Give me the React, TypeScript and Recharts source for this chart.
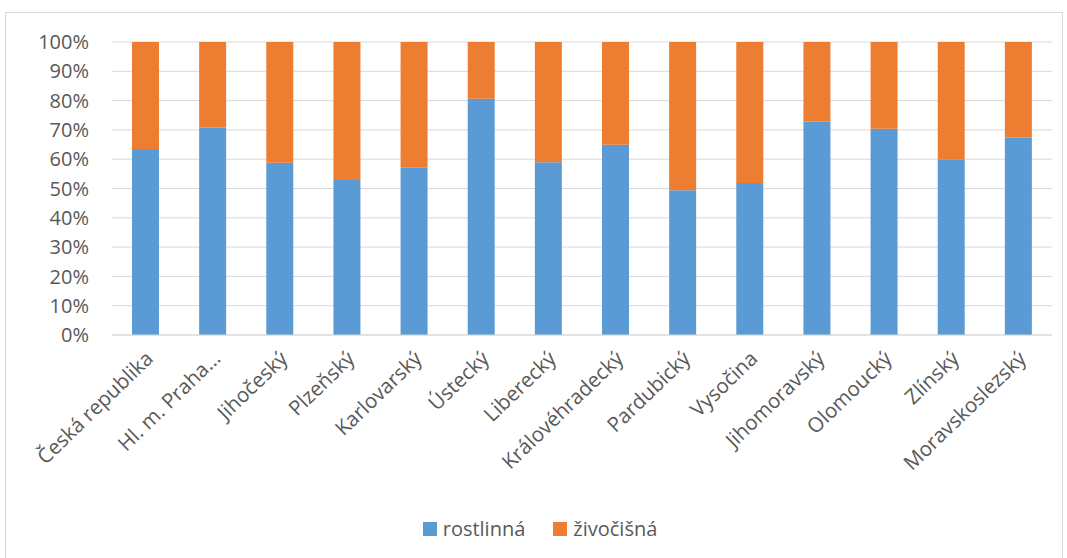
import { Bar, BarChart, CartesianGrid, Legend, XAxis, YAxis } from "recharts";

const kraje = [
  "Česká republika",
  "Hl. m. Praha…",
  "Jihočeský",
  "Plzeňský",
  "Karlovarský",
  "Ústecký",
  "Liberecký",
  "Královéhradecký",
  "Pardubický",
  "Vysočina",
  "Jihomoravský",
  "Olomoucký",
  "Zlínský",
  "Moravskoslezský",
];
const rostlinna = [63.5, 70.8, 58.8, 52.9, 57.1, 80.6, 59.0, 64.9, 49.4, 51.9, 72.9, 70.4, 60.0, 67.4];
const zivocisna = [36.5, 29.2, 41.2, 47.1, 42.9, 19.4, 41.0, 35.1, 50.6, 48.1, 27.1, 29.6, 40.0, 32.6];
const yTicks = [0, 10, 20, 30, 40, 50, 60, 70, 80, 90, 100];

const data = kraje.map((k, i) => ({ kraj: k, rostlinna: rostlinna[i], zivocisna: zivocisna[i] }));

const FONT = "'Open Sans', sans-serif";
const TEXT = "#595959";

function KrajTick({ x, y, payload }: any) {
  const ax = x + 9;
  const ay = y + 17;
  return (
    <text
      x={ax}
      y={ay}
      transform={`rotate(-44, ${ax}, ${ay})`}
      textAnchor="end"
      fontSize={20.5}
      fontFamily={FONT}
      fill={TEXT}
    >
      {payload.value}
    </text>
  );
}

function LegendBox() {
  const items = [
    { label: "rostlinná", color: "#5B9BD5" },
    { label: "živočišná", color: "#ED7D31" },
  ];
  return (
    <div
      style={{
        display: "flex",
        justifyContent: "center",
        gap: 28,
        paddingLeft: 28,
        fontFamily: FONT,
        fontSize: 20,
        color: TEXT,
      }}
    >
      {items.map((it) => (
        <div key={it.label} style={{ display: "flex", alignItems: "center" }}>
          <span style={{ width: 14, height: 14, background: it.color, display: "inline-block", marginRight: 6 }} />
          {it.label}
        </div>
      ))}
    </div>
  );
}

export default function App() {
  return (
    <div style={{ position: "absolute", left: 0, top: 0, width: 1067, height: 558, background: "#fff" }}>
      <div
        style={{
          position: "absolute",
          left: 5,
          top: 12,
          width: 1056,
          height: 560,
          border: "1px solid #D9D9D9",
        }}
      />
      <div style={{ position: "absolute", left: 0, top: 0 }}>
        <BarChart
          width={1067}
          height={558}
          data={data}
          margin={{ top: 42, right: 15, bottom: 0, left: 0 }}
          barSize={27}
        >
          <CartesianGrid vertical={false} stroke="#D9D9D9" />
          <XAxis
            dataKey="kraj"
            interval={0}
            tickLine={false}
            axisLine={{ stroke: "#D9D9D9" }}
            tick={<KrajTick />}
            height={180}
          />
          <YAxis
            width={112}
            domain={[0, 100]}
            ticks={yTicks}
            tickFormatter={(v) => `${v}%`}
            axisLine={false}
            tickLine={false}
            tickSize={8}
            tickMargin={15}
            tick={{ fontSize: 20, fontFamily: FONT, fill: TEXT }}
          />
          <Legend verticalAlign="bottom" height={43} content={<LegendBox />} />
          <Bar dataKey="rostlinna" stackId="a" fill="#5B9BD5" isAnimationActive={false} />
          <Bar dataKey="zivocisna" stackId="a" fill="#ED7D31" isAnimationActive={false} />
        </BarChart>
      </div>
    </div>
  );
}
